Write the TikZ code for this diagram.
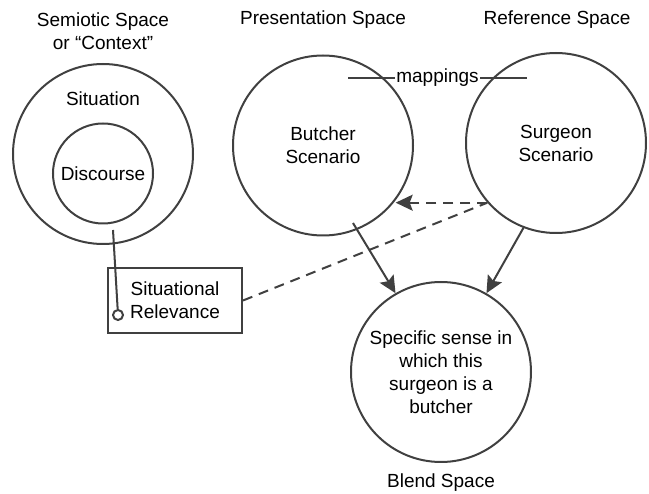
\documentclass[tikz,border=0pt]{standalone}
\usepackage{fontspec}
\setmainfont{Liberation Sans}
\usetikzlibrary{arrows.meta}
\definecolor{linegray}{RGB}{64,64,64}

\begin{document}
\begin{tikzpicture}[x=1pt,y=-1pt,font=\fontsize{19}{23}\selectfont,
    space/.style={circle,draw=linegray,line width=2pt,minimum size=180pt,inner sep=0pt,align=center},
    link/.style={draw=linegray,line width=2pt},
    arr/.style={link,-{Stealth[length=17pt,width=16pt,inset=3pt]}},
    dashline/.style={link,dash pattern=on 10pt off 7pt}]
    \useasboundingbox (0,0) rectangle (649,494);

    \node[space] (semiotic) at (103,154) {};
    \node[space,minimum size=100pt] (discourse) at (103,173.5) {Discourse};
    \node (situation) at (103,99) {Situation};
    \node[align=center] (semtitle) at (103,31) {Semiotic Space\\or “Context”};

    \node[space] (butcher) at (323,145.5) {Butcher\\Scenario};
    \node[space] (surgeon) at (556,143) {Surgeon\\Scenario};
    \node[space] (blend) at (441,372) {Specific sense in\\which this\\surgeon is a\\butcher};
    \node (prestitle) at (323,20) {Presentation Space};
    \node (reftitle) at (557,20) {Reference Space};
    \node (blendtitle) at (441,483) {Blend Space};

    \node[draw=linegray,line width=2pt,minimum width=134pt,minimum height=65pt,align=center] (relevance) at (175,300.5) {Situational\\Relevance};

    \coordinate (mapl) at (348,78);
    \coordinate (mapr) at (527,78);
    \draw[link] (mapl) -- node[fill=white,inner sep=1pt] (maptext) {mappings} (mapr);

    \coordinate (discfoot) at (113,230);
    \node[circle,draw=linegray,line width=2pt,fill=white,minimum size=10pt,inner sep=0pt] (relpin) at (118,315) {};
    \draw[link] (discfoot) -- (relpin);

    \draw[dashline] (relevance.east) -- (surgeon.221);
    \draw[arr,dash pattern=on 10pt off 7pt] (surgeon.221) -- (surgeon.221 -| butcher.-37);

    \coordinate (butchfoot) at (353,223);
    \draw[arr] (butchfoot) -- (blend.120);
    \draw[arr] (surgeon.249) -- (blend.60);
\end{tikzpicture}
\end{document}
